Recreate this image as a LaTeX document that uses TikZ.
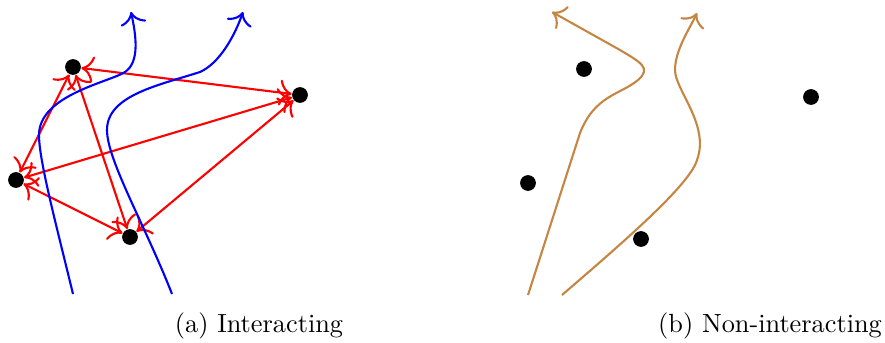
\documentclass[tikz,border=0pt]{standalone}
\usetikzlibrary{arrows.meta}
\definecolor{traj}{RGB}{196,134,66}
\begin{document}
\begin{tikzpicture}[x=0.3802pt,y=-0.3802pt,
  dot/.style={circle,fill=black,inner sep=0pt,minimum size=6pt},
  inter/.style={red,thick,{To[scale=1.4]}-{To[scale=1.4]}},
  bluepath/.style={blue,thick,-{To[scale=1.4]}},
  orangepath/.style={traj,thick,-{To[scale=1.4]}},
  caption/.style={font=\normalsize,anchor=base}]
\useasboundingbox (0,0) rectangle (885,343);
% (a) interacting
\node[dot] (a1) at (73,67) {};
\node[dot] (a2) at (300,95) {};
\node[dot] (a3) at (16,180) {};
\node[dot] (a4) at (130,237) {};
\draw[inter] (a1) -- (a2);
\draw[inter] (a1) -- (a3);
\draw[inter] (a1) -- (a4);
\draw[inter] (a2) -- (a3);
\draw[inter] (a2) -- (a4);
\draw[inter] (a3) -- (a4);
\coordinate (s1) at (73,294);
\coordinate (e1) at (131,12);
\coordinate (s2) at (172,294);
\coordinate (e2) at (243,12);
\draw[bluepath] (s1) .. controls (55,220) and (39,160) .. (39,135)
  .. controls (39,95) and (110,82) .. (125,72)
  .. controls (140,62) and (136,35) .. (e1);
\draw[bluepath] (s2) .. controls (145,225) and (107,160) .. (107,130)
  .. controls (107,95) and (160,85) .. (200,72)
  .. controls (220,63) and (235,35) .. (e2);
\node[caption] (capa) at (259,333) {(a) Interacting};
% (b) non-interacting
\node[dot] (b1) at (584,69) {};
\node[dot] (b2) at (811,97) {};
\node[dot] (b3) at (528,183) {};
\node[dot] (b4) at (641,239) {};
\coordinate (s3) at (528,295);
\coordinate (e3) at (552,12);
\coordinate (s4) at (562,295);
\coordinate (e4) at (697,13);
\draw[orangepath] (s3) -- (580,133)
  .. controls (595,95) and (620,95) .. (638,80)
  .. controls (652,68) and (640,62) .. (620,50) -- (e3);
\draw[orangepath] (s4) .. controls (620,245) and (690,185) .. (697,160)
  .. controls (710,125) and (675,90) .. (675,70)
  .. controls (675,50) and (690,28) .. (e4);
\node[caption] (capb) at (770,333) {(b) Non-interacting};
\end{tikzpicture}
\end{document}
